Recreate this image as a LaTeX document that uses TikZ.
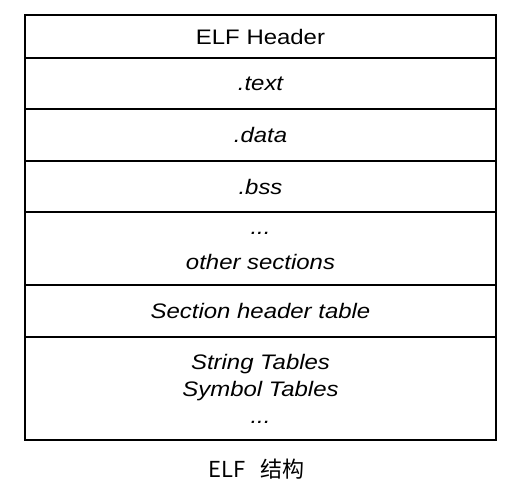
\documentclass[tikz,border=0pt]{standalone}
\usepackage{fontspec}
\setmainfont{Liberation Sans}
\newfontfamily\elffont{Liberation Sans}[FakeStretch=1.14]
\newfontfamily\cjkfont{Noto Sans CJK SC}
\usetikzlibrary{positioning}
\tikzset{
  elf-part/.style={draw, line width=2pt, minimum width=471pt, minimum height=#1,
    inner sep=0pt, outer sep=0pt, align=center,
    font=\elffont\fontsize{21}{27}\selectfont\itshape},
  elf-part/.default=51pt,
  elf-caption/.style={font=\cjkfont\fontsize{22}{26}\selectfont, anchor=base},
}
\begin{document}
\begin{tikzpicture}[x=1pt, y=1pt]
\useasboundingbox (0,0) rectangle (521,-498);
% sections, top to bottom
\node[elf-part=43pt, anchor=north, font=\elffont\fontsize{21}{27}\selectfont] (header) at (260.5,-15) {ELF Header};
\node[elf-part, below=0pt of header] (text) {.text};
\node[elf-part=52pt, below=0pt of text] (data) {.data};
\node[elf-part, below=0pt of data] (bss) {.bss};
\node[elf-part=73pt, below=0pt of bss] (other) {\rule{0pt}{8pt}...\\[8pt]other sections};
\node[elf-part=52pt, below=0pt of other] (shtab) {Section header table};
\node[elf-part=103pt, below=0pt of shtab] (tables) {String Tables\\Symbol Tables\\...};
% caption
\node[elf-caption] (title) at (256.5,-477) {ELF\hspace{0.7em}结构};
\end{tikzpicture}
\end{document}
